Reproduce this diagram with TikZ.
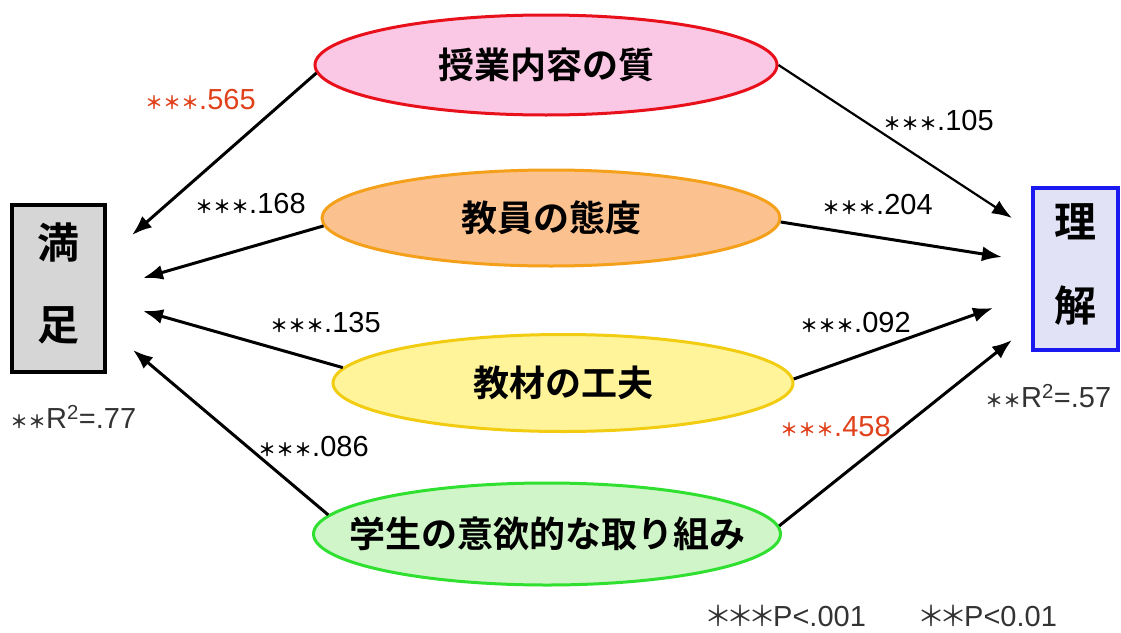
\documentclass[tikz,border=0pt]{standalone}
\usepackage{fontspec}
\setmainfont{Liberation Sans}
\newfontfamily\cjk{Noto Sans CJK JP}
\newfontfamily\cjkb{Noto Sans CJK JP Bold}
\usetikzlibrary{shapes.geometric,arrows.meta}
\definecolor{pinkfill}{HTML}{FAC8E4}
\definecolor{redline}{HTML}{E8101A}
\definecolor{orfill}{HTML}{FBC28F}
\definecolor{orline}{HTML}{F5A01A}
\definecolor{yefill}{HTML}{FFF49A}
\definecolor{yeline}{HTML}{F2CC10}
\definecolor{grfill}{HTML}{CFF5C8}
\definecolor{grline}{HTML}{30E030}
\definecolor{boxgray}{HTML}{D6D6D6}
\definecolor{boxblue}{HTML}{E2E2F6}
\definecolor{blueline}{HTML}{1A1AF0}
\definecolor{labred}{HTML}{E0401A}
\newcommand{\astsm}[1]{{\cjkb\fontsize{18}{18}\selectfont #1}}
\newcommand{\astft}{\makebox[22pt]{\cjk\fontsize{28}{28}\selectfont ＊}}
\newcommand{\zw}[1]{\makebox[0pt]{#1}}
\newcommand{\vpair}[3]{\raisebox{#3}{\begin{tabular}{@{}c@{}}#1\\[36pt]#2\end{tabular}}}
\begin{document}
\begin{tikzpicture}[x=1pt,y=-1pt,
  factor/.style={ellipse,line width=3pt,inner sep=0pt,font=\cjkb\fontsize{36}{36}\selectfont},
  outbox/.style={line width=4pt,inner sep=0pt,font=\cjkb\fontsize{42}{42}\selectfont},
  path/.style={line width=3pt,-{Latex[length=20pt,width=15pt]}},
  lab/.style={anchor=west,inner sep=0pt,font=\fontsize{29}{29}\selectfont},
  note/.style={anchor=west,inner sep=0pt,font=\fontsize{29}{29}\selectfont,text=black!80}]
\useasboundingbox (0,0) rectangle (1121,632);
% outcome boxes
\node[outbox,draw=black,fill=boxgray,minimum width=93pt,minimum height=167pt] (sat) at (58.5,288) {\vpair{満}{足}{5pt}};
\node[outbox,draw=blueline,fill=boxblue,minimum width=85pt,minimum height=162pt] (und) at (1075.5,269) {\vpair{理}{解}{21pt}};
% factors
\node[factor,draw=redline,fill=pinkfill,minimum width=462pt,minimum height=100pt] (e1) at (546,65) {\zw{授業内容の質}};
\node[factor,draw=orline,fill=orfill,minimum width=458pt,minimum height=96pt] (e2) at (551,218) {\zw{教員の態度}};
\node[factor,draw=yeline,fill=yefill,minimum width=460pt,minimum height=97pt] (e3) at (563,383) {\zw{教材の工夫}};
\node[factor,draw=grline,fill=grfill,minimum width=467pt,minimum height=102pt] (e4) at (547,534) {\zw{学生の意欲的な取り組み}};
% arrow end points
\coordinate (s1) at (132,235);
\coordinate (s2) at (143,278);
\coordinate (s3) at (143,311);
\coordinate (s4) at (133,350);
\coordinate (u1) at (1012,218);
\coordinate (u2) at (1002,257);
\coordinate (u3) at (993,308);
\coordinate (u4) at (1012,340);
% arrows
\draw[path] (e1.182) -- (s1);
\draw[path] (e2.182.5) -- (s2);
\draw[path] (e3.176.7) -- (s3);
\draw[path] (e4.175.8) -- (s4);
\draw[path,line width=2.2pt] (e1.east) -- (u1);
\draw[path] (e2.-1) -- (u2);
\draw[path] (e3.1.3) -- (u3);
\draw[path] (e4.2.2) -- (u4);
% coefficient labels
\node[lab,text=labred] (l1) at (145,100) {\astsm{＊＊＊}.565};
\node[lab] (l2) at (195,204) {\astsm{＊＊＊}.168};
\node[lab] (l3) at (270,323) {\astsm{＊＊＊}.135};
\node[lab] (l4) at (258,447) {\astsm{＊＊＊}.086};
\node[lab] (r1) at (883,121) {\astsm{＊＊＊}.105};
\node[lab] (r2) at (822,205) {\astsm{＊＊＊}.204};
\node[lab] (r3) at (800,323) {\astsm{＊＊＊}.092};
\node[lab,text=labred] (r4) at (780,427) {\astsm{＊＊＊}.458};
% R squared
\node[note] (rs) at (10,417) {\astsm{＊＊}R\textsuperscript{2}=.77};
\node[note] (ru) at (985,396) {\astsm{＊＊}R\textsuperscript{2}=.57};
% footer
\node[note] (f1) at (707,616) {\astft\astft\astft P<.001};
\node[note] (f2) at (920,616) {\astft\astft P<0.01};
\end{tikzpicture}
\end{document}
